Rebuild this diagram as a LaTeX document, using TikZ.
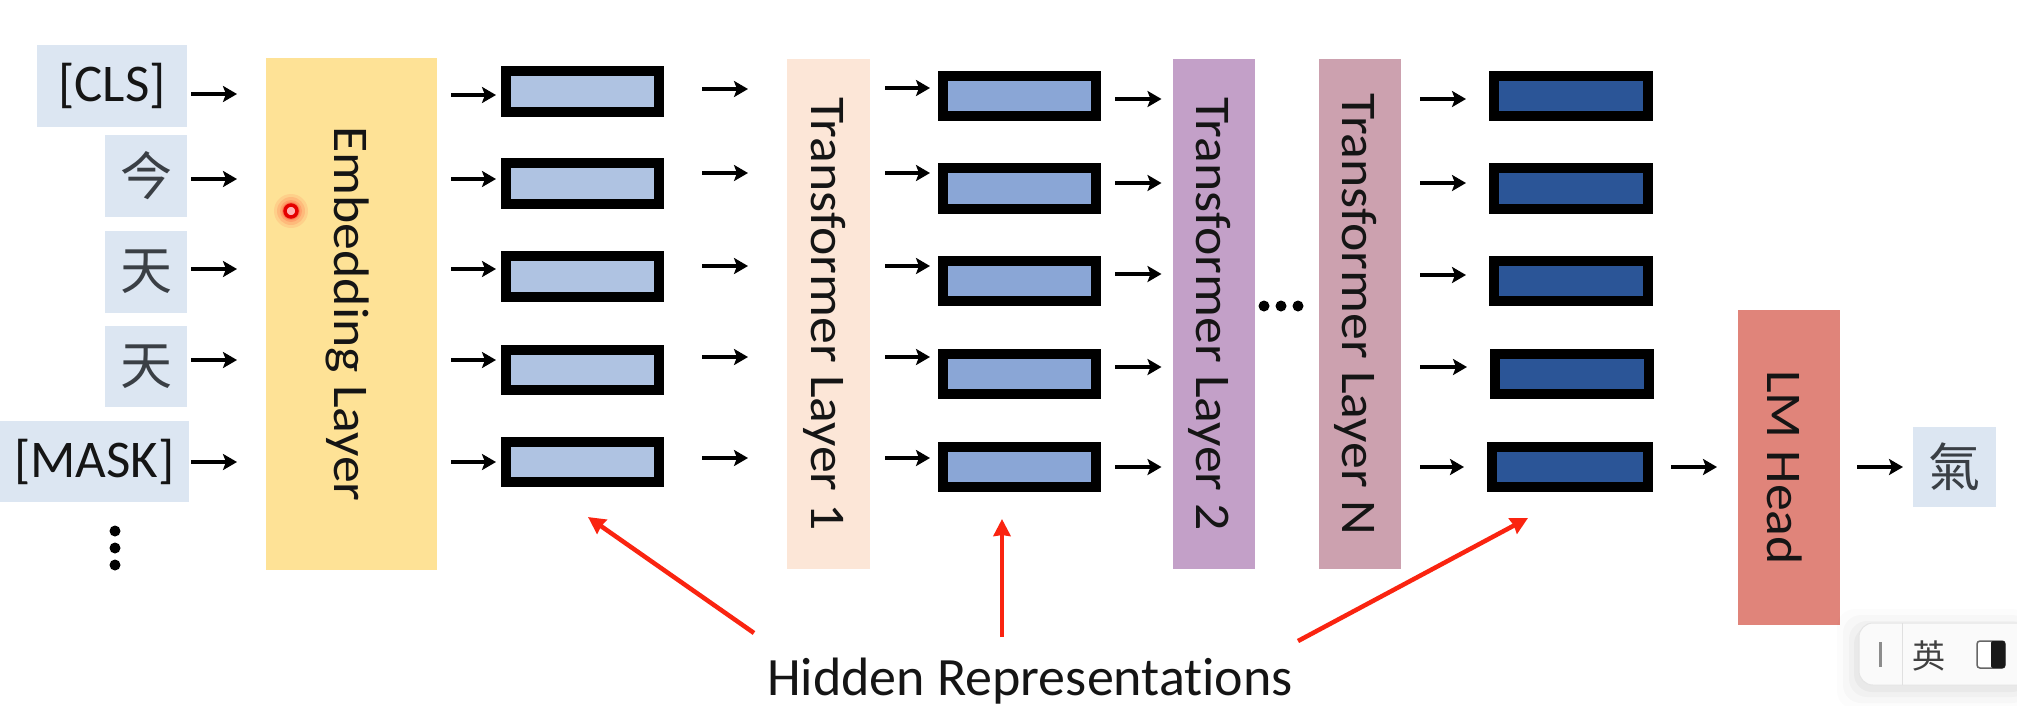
\documentclass[tikz,border=0pt]{standalone}
\usepackage{fontspec}
\setmainfont{Carlito}[Ligatures=NoCommon]
\newfontfamily\cjk{Noto Sans CJK TC}
\usetikzlibrary{arrows.meta,calc}
\definecolor{tokfill}{HTML}{DCE6F2}
\definecolor{embfill}{HTML}{FEE296}
\definecolor{tonefill}{HTML}{FCE6D7}
\definecolor{ttwofill}{HTML}{C3A0C8}
\definecolor{tnfill}{HTML}{CCA1AF}
\definecolor{lmfill}{HTML}{E0847A}
\definecolor{hone}{HTML}{AFC3E2}
\definecolor{htwo}{HTML}{8AA6D6}
\definecolor{hthree}{HTML}{2B5597}
\definecolor{txt}{HTML}{151515}
\definecolor{cjktxt}{HTML}{3A3F45}
\definecolor{redarrow}{HTML}{FA2410}
\tikzset{
  block/.style={draw=none,inner sep=0pt,outer sep=0pt,text=txt,align=center},
  hrep/.style={draw=black,line width=10pt,inner sep=0pt,rectangle,fill=#1},
  arr/.style={line width=4pt,black,-{Stealth[length=14pt,width=16pt,inset=3pt]}},
  redarr/.style={line width=4.5pt,redarrow,-{Stealth[length=17pt,width=17pt,inset=1pt]}},
  tokfont/.style={font=\fontsize{53}{60}\selectfont},
  layfont/.style={font=\fontsize{48}{58}\selectfont},
  cjkfont/.style={font=\cjk\fontsize{52}{60}\selectfont,text=cjktxt},
  dot/.style={circle,fill=black,inner sep=0pt,minimum size=11pt}
}
% name, x1, y1, x2, y2, style, text
\newcommand{\blk}[7]{%
  \pgfmathsetmacro\myx{(#2+#4)/2}\pgfmathsetmacro\myy{(#3+#5)/2}%
  \pgfmathsetmacro\myw{#4-#2}\pgfmathsetmacro\myh{#5-#3}%
  \node[block,#6,minimum width=\myw pt,minimum height=\myh pt] (#1) at (\myx,\myy) {#7};}
\newcommand{\hbx}[6]{%
  \pgfmathsetmacro\myx{(#2+#4)/2}\pgfmathsetmacro\myy{(#3+#5)/2}%
  \pgfmathsetmacro\myw{#4-#2-10}\pgfmathsetmacro\myh{#5-#3-10}%
  \node[hrep=#6,minimum width=\myw pt,minimum height=\myh pt] (#1) at (\myx,\myy) {};}
\newcommand{\conn}[5]{\draw[arr,shorten <=#4pt,shorten >=#5pt] (#1.east |- 0,#3) -- (#2.west |- 0,#3);}
\newcommand{\vtext}[1]{\hspace*{-8pt}\rotatebox{-90}{\scalebox{1.12}[1.04]{#1}}}
\begin{document}
\begin{tikzpicture}[x=1pt,y=-1pt]
\useasboundingbox (0,0) rectangle (2017,705);
\fill[white] (0,0) rectangle (2017,705);
% tokens
\blk{tcls}{37}{45}{187}{127}{fill=tokfill,tokfont}{[CLS]}
\blk{tjin}{105}{135}{187}{217}{fill=tokfill,cjkfont}{今}
\blk{ttiana}{105}{231}{187}{313}{fill=tokfill,cjkfont}{天}
\blk{ttianb}{105}{326}{187}{407}{fill=tokfill,cjkfont}{天}
\blk{tmask}{0}{421}{189}{502}{fill=tokfill,tokfont}{[MASK]}
\node[dot] (va) at (115,531) {};
\node[dot] (vb) at (115,548) {};
\node[dot] (vc) at (115,565) {};
% layers
\blk{emb}{266}{58}{437}{570}{fill=embfill,layfont}{\vtext{Embedding Layer}}
\blk{tone}{787}{59}{870}{569}{fill=tonefill,layfont}{\vtext{Transformer Layer 1}}
\blk{ttwo}{1172.5}{59}{1255}{569}{fill=ttwofill,layfont}{\vtext{Transformer Layer 2}}
\blk{tn}{1319}{59}{1401}{569}{fill=tnfill,layfont}{\vtext{Transformer Layer N}}
\blk{lm}{1738}{310}{1840}{625}{fill=lmfill,layfont}{\vtext{LM Head}}
\blk{qi}{1913}{427}{1996}{507}{fill=tokfill,cjkfont}{氣}
% ellipsis
\node[dot] (ha) at (1264,306) {};
\node[dot] (hb) at (1281,306) {};
\node[dot] (hc) at (1298,306) {};
% hidden representations
\hbx{ca}{501}{66}{664}{117}{hone}
\hbx{cb}{501}{158}{664}{209}{hone}
\hbx{cc}{501}{251}{664}{302}{hone}
\hbx{cd}{501}{345}{664}{395}{hone}
\hbx{ce}{501}{437}{664}{487}{hone}
\hbx{da}{938}{71}{1101}{121}{htwo}
\hbx{db}{938}{163}{1101}{214}{htwo}
\hbx{dc}{938}{256}{1101}{306}{htwo}
\hbx{dd}{938}{349}{1101}{399}{htwo}
\hbx{de}{938}{442}{1101}{492}{htwo}
\hbx{ea}{1489}{71}{1653}{121}{hthree}
\hbx{eb}{1489}{163}{1653}{214}{hthree}
\hbx{ec}{1489}{256}{1653}{306}{hthree}
\hbx{ed}{1490}{349}{1654}{399}{hthree}
\hbx{ee}{1487}{442}{1653}{492}{hthree}
% connectors
\conn{tcls}{emb}{94}{4}{29}
\conn{tjin}{emb}{179}{4}{29}
\conn{ttiana}{emb}{269}{4}{29}
\conn{ttianb}{emb}{360}{4}{29}
\conn{tmask}{emb}{462}{2}{29}
\conn{emb}{ca}{95}{14}{5}
\conn{emb}{cb}{179}{14}{5}
\conn{emb}{cc}{269}{14}{5}
\conn{emb}{cd}{360}{14}{5}
\conn{emb}{ce}{462}{14}{5}
\conn{ca}{tone}{89}{38}{39}
\conn{cb}{tone}{173}{38}{39}
\conn{cc}{tone}{266}{38}{39}
\conn{cd}{tone}{357}{38}{39}
\conn{ce}{tone}{458}{38}{39}
\conn{tone}{da}{88}{15}{8}
\conn{tone}{db}{173}{15}{8}
\conn{tone}{dc}{266}{15}{8}
\conn{tone}{dd}{357}{15}{8}
\conn{tone}{de}{458}{15}{8}
\conn{da}{ttwo}{99}{14}{11}
\conn{db}{ttwo}{183}{14}{11}
\conn{dc}{ttwo}{274}{14}{11}
\conn{dd}{ttwo}{367}{14}{11}
\conn{de}{ttwo}{467}{14}{11}
\conn{tn}{ea}{99}{19}{23}
\conn{tn}{eb}{183}{19}{23}
\conn{tn}{ec}{275}{19}{23}
\conn{tn}{ed}{367}{19}{23}
\conn{tn}{ee}{467}{19}{23}
\conn{ee}{lm}{467}{18}{21}
\conn{lm}{qi}{467}{17}{10}
% label and red arrows
\node[anchor=base,text=txt,inner sep=0pt,font=\fontsize{54}{60}\selectfont] (hid) at (1030,695) {Hidden Representations};
\coordinate (ra) at (754,633);
\coordinate (rb) at (1002,637);
\coordinate (rc) at (1298,641);
\coordinate (ta) at (588,517);
\coordinate (tb) at (1002,519);
\coordinate (tc) at (1528,518);
\draw[redarr] (ra) -- (ta);
\draw[redarr] (rb) -- (tb);
\draw[redarr] (rc) -- (tc);
% pointer
\foreach \r/\o in {17/.08,14/.10,11/.13,9/.18} \fill[red,opacity=\o] (291,211) circle (\r pt);
\node[circle,draw=red!90!black,fill=white!70!red,line width=3.5pt,inner sep=0pt,minimum size=12pt] (ptr) at (291,211) {};
% input method bar
\foreach \d/\o in {22/.012,16/.018,10/.025,5/.03}
  \fill[black,opacity=\o,rounded corners=18pt] (1859-\d,623-\d+8) rectangle (2030,685+\d+2);
\draw[draw=black!10,fill=black!2,rounded corners=14pt,line width=1pt] (1859,623) rectangle (2040,685);
\draw[black!12,line width=1pt] (1902,623) -- (1902,685);
\fill[black!45] (1878.5,642) rectangle (1882,667);
\node[text=black!75,font=\cjk\fontsize{33}{40}\selectfont] (ying) at (1929,656) {英};
\draw[black!60,line width=1.5pt,rounded corners=3pt,fill=white] (1977,641) rectangle (2005,668);
\fill[black!90,rounded corners=2pt] (1991,641) rectangle (2005,668);
\end{tikzpicture}
\end{document}
